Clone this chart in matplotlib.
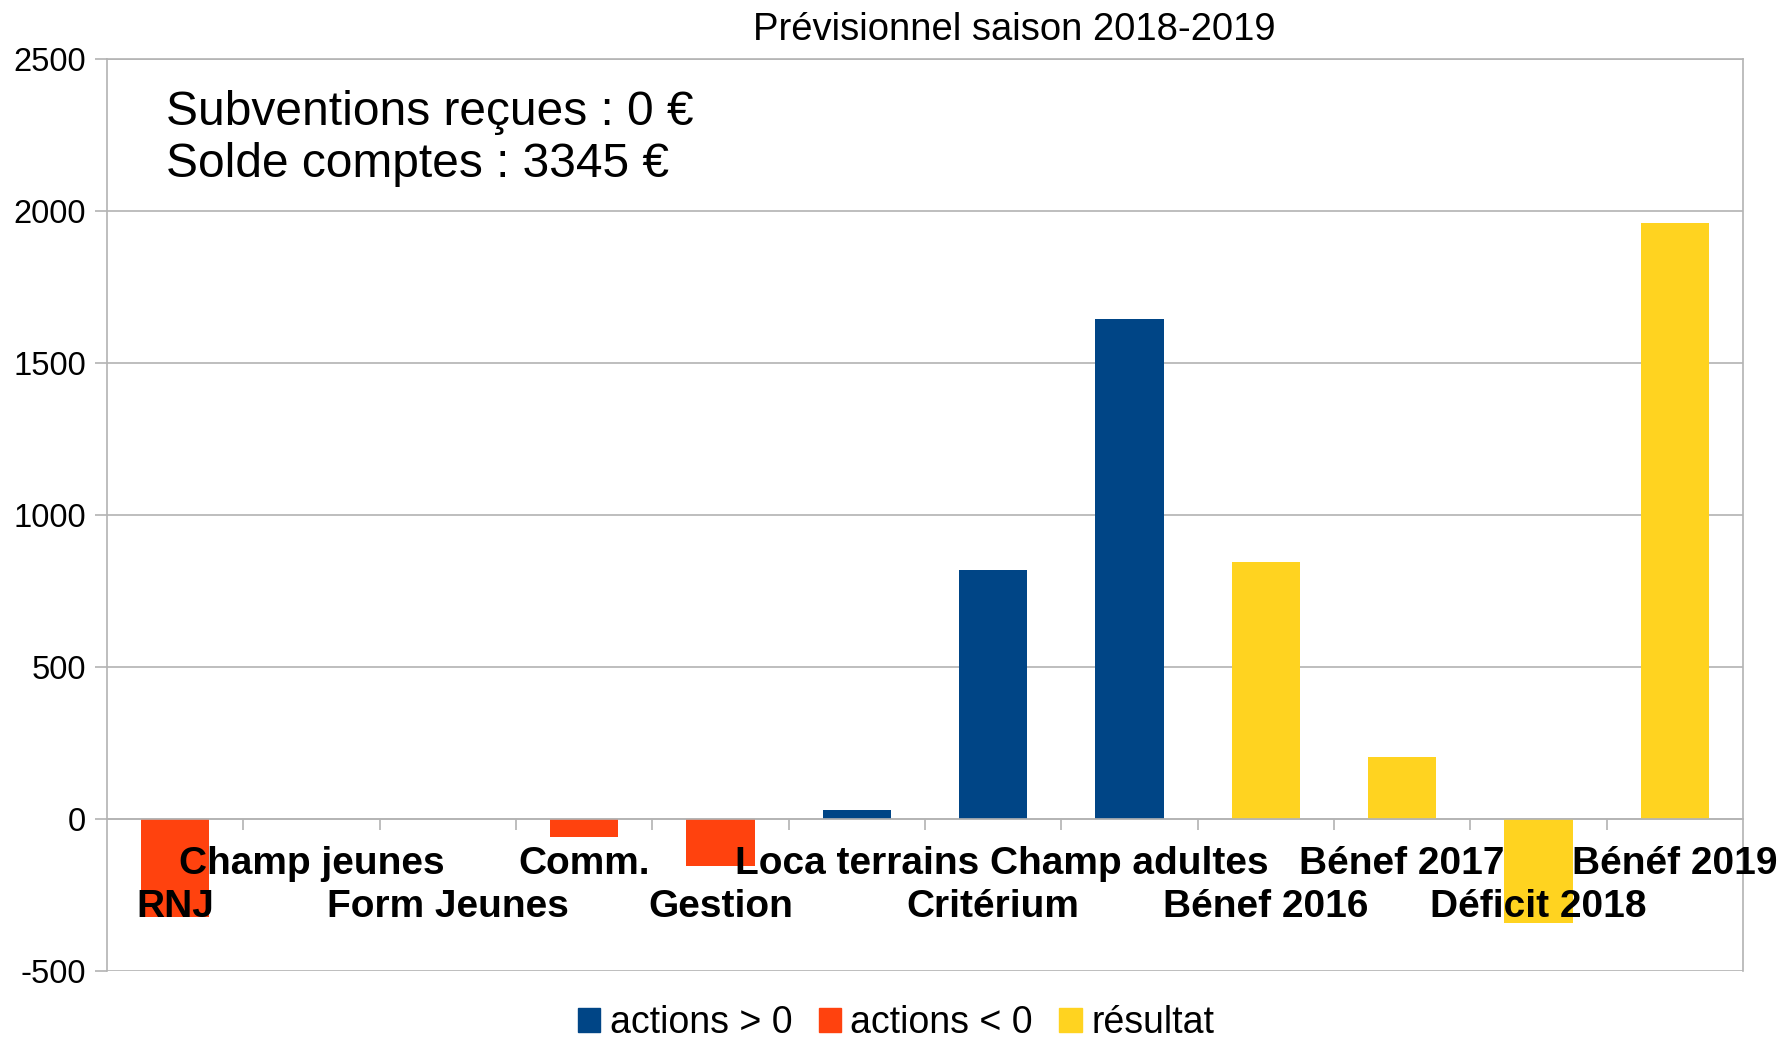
import numpy as np
import matplotlib
matplotlib.use("Agg")
import matplotlib.pyplot as plt
from matplotlib.patches import Patch
from matplotlib.transforms import blended_transform_factory

plt.rcParams['font.family'] = ['Liberation Sans', 'DejaVu Sans']

categories = ["RNJ", "Champ jeunes", "Form Jeunes", "Comm.", "Gestion",
              "Loca terrains", "Critérium", "Champ adultes", "Bénef 2016",
              "Bénef 2017", "Déficit 2018", "Bénéf 2019"]
actions_pos = [0, 0, 0, 0, 0, 30, 820, 1645, 0, 0, 0, 0]
actions_neg = [-322, 0, 0, -58, -154, 0, 0, 0, 0, 0, 0, 0]
resultat = [0, 0, 0, 0, 0, 0, 0, 0, 845, 204, -342, 1961]
yticks = [-500, 0, 500, 1000, 1500, 2000, 2500]

c_pos = '#004586'
c_neg = '#ff420e'
c_res = '#ffd320'
grey = '#b3b3b3'

W, H = 1780, 1042
fig = plt.figure(figsize=(W / 100, H / 100), dpi=100)
ax = fig.add_axes([107 / W, 1 - 971 / H, (1743 - 107) / W, (971 - 59) / H])

x = np.arange(len(categories))
ax.bar(x, actions_pos, width=0.5, color=c_pos, zorder=3)
ax.bar(x, actions_neg, width=0.5, color=c_neg, zorder=3)
ax.bar(x, resultat, width=0.5, color=c_res, zorder=3)

ax.set_xlim(-0.5, len(categories) - 0.5)
ax.set_ylim(-500, 2500)
ax.set_yticks(yticks)
ax.set_yticklabels([str(v) for v in yticks], fontsize=23.5)
ax.yaxis.grid(True, color=grey, linewidth=1.2, zorder=0)

ax.set_xticks(np.arange(len(categories) - 1) + 0.5)
ax.set_xticklabels([])
ax.spines['bottom'].set_position(('data', 0))
ax.spines['bottom'].set_zorder(4)
for s in ax.spines.values():
    s.set_color(grey)
    s.set_linewidth(1.2)
ax.tick_params(axis='x', length=8, width=1.2, color=grey, direction='out')
ax.tick_params(axis='y', length=8.5, width=1.2, color=grey, pad=6.5)

# staggered category labels
tr = blended_transform_factory(ax.transData, fig.transFigure)
for i, name in enumerate(categories):
    yb = 917 if i % 2 == 0 else 874
    ax.text(i, 1 - yb / H, name, transform=tr, ha='center', va='baseline',
            fontsize=28, fontweight='bold', zorder=5, clip_on=False)

fig.text(1014 / W, 1 - 40 / H, "Prévisionnel saison 2018-2019",
         ha='center', va='baseline', fontsize=27.5)
fig.text(166 / W, 1 - 125 / H, "Subventions reçues : 0 €",
         ha='left', va='baseline', fontsize=34.5)
fig.text(166 / W, 1 - 177 / H, "Solde comptes : 3345 €",
         ha='left', va='baseline', fontsize=34.5)

handles = [Patch(color=c_pos), Patch(color=c_neg), Patch(color=c_res)]
fig.legend(handles, ["actions > 0", "actions < 0", "résultat"],
           loc='center', bbox_to_anchor=(896 / W, 1 - 1023 / H), ncol=3,
           frameon=False, fontsize=27, handlelength=0.6, handleheight=0.6,
           handletextpad=0.25, columnspacing=0.7, borderpad=0)

fig.savefig("out.png", dpi=100)
